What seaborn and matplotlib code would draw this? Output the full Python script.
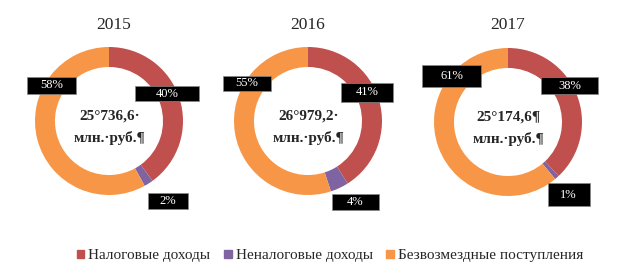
"""
Структура доходов бюджета за 2015-2017 гг. (кольцевые диаграммы).
"""

import matplotlib
matplotlib.use("Agg")
import matplotlib.pyplot as plt
import matplotlib.patches as mpatches
import seaborn as sns

# --- данные ---
years = ["2015", "2016", "2017"]
totals = ["25°736,6·", "26°979,2·", "25°174,6¶"]
categories = ["Налоговые доходы", "Неналоговые доходы", "Безвозмездные поступления"]
tax_share = [40, 41, 38]
nontax_share = [2, 4, 1]
grant_share = [58, 55, 61]

colors = ["#C0504D", "#8064A2", "#F79646"]

# оформление: положение подписей (в долях радиуса), размеры плашек (px),
# центры колец и заголовков (px)
label_pos = [
    [(0.78, 0.37), (0.80, -1.08), (-0.78, 0.48)],
    [(0.80, 0.39), (0.64, -1.10), (-0.83, 0.51)],
    [(0.83, 0.49), (0.82, -0.98), (-0.76, 0.62)],
]
box_size = [
    [(64, 15), (40, 16), (49, 17)],
    [(52, 19), (47, 16), (48, 15)],
    [(57, 17), (42, 23), (59, 22)],
]
centers_px = [(109, 121), (308, 121), (508, 122)]
title_x = [114, 308, 508]
radius_px = 74

sns.set_theme(style="white")
plt.rcParams["font.family"] = ["Liberation Serif", "DejaVu Serif"]

W, H = 624, 273
fig = plt.figure(figsize=(W / 100, H / 100), dpi=100)

span = 1.5
for i, year in enumerate(years):
    cx, cy = centers_px[i]
    size = 2 * span * radius_px
    ax = fig.add_axes([(cx - size / 2) / W, 1 - (cy + size / 2) / H, size / W, size / H])
    ax.set_facecolor("none")
    vals = [tax_share[i], nontax_share[i], grant_share[i]]
    ax.pie(vals, colors=colors, startangle=90, counterclock=False,
           radius=1.0, wedgeprops=dict(width=0.27, edgecolor="none"))
    ax.set_xlim(-span, span)
    ax.set_ylim(-span, span)
    ax.set_aspect("equal")
    ax.axis("off")
    for v, (dx, dy), (bw, bh) in zip(vals, label_pos[i], box_size[i]):
        w, h = bw / radius_px, bh / radius_px
        ax.add_patch(mpatches.Rectangle((dx - w / 2, dy - h / 2), w, h,
                                        facecolor="black", edgecolor="#888888",
                                        linewidth=0.5, zorder=3))
        ax.text(dx, dy, f"{v}%", ha="center", va="center", color="white",
                fontsize=9, zorder=4)
    ax.text(0.01, -0.085, f"{totals[i]}\nмлн.·руб.¶", ha="center", va="center",
            fontsize=11, fontweight="bold", linespacing=1.8)
    fig.text(title_x[i] / W, 1 - 25 / H, year, ha="center", va="center",
             fontsize=12.5)

handles = [mpatches.Patch(color=c, label=l) for c, l in zip(colors, categories)]
fig.legend(handles=handles, loc="center", bbox_to_anchor=(330 / W, 1 - 256 / H),
           ncol=3, frameon=False, fontsize=11, handlelength=0.5,
           handleheight=0.5, handletextpad=0.25, columnspacing=0.9,
           borderpad=0.2)

fig.savefig("out.png", dpi=100)
